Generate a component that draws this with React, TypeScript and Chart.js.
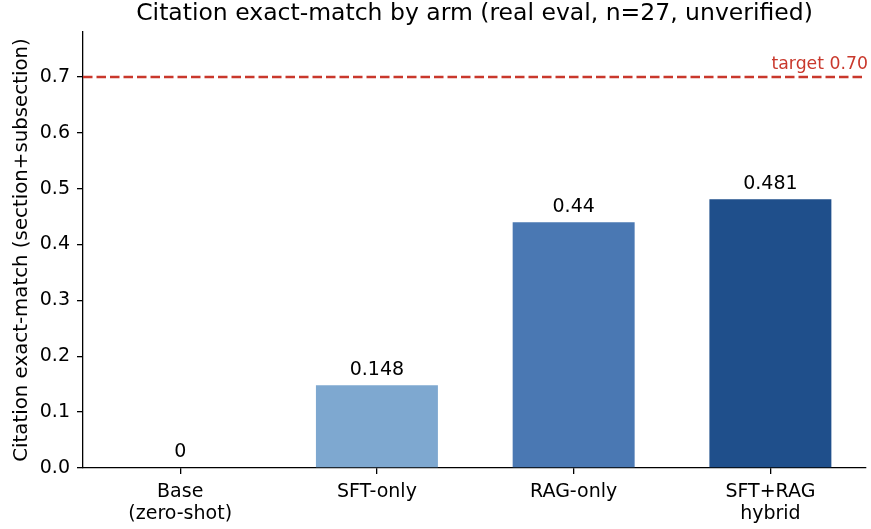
import React, { useEffect, useRef } from "react";
import { Chart, registerables } from "chart.js";

Chart.register(...registerables);

const CATEGORIES: string[][] = [["Base", "(zero-shot)"], ["SFT-only"], ["RAG-only"], ["SFT+RAG", "hybrid"]];
const VALUES: number[] = [0, 0.148, 0.44, 0.481];
const VALUE_LABELS: string[] = ["0", "0.148", "0.44", "0.481"];
const BAR_COLORS: string[] = ["#9ec3e6", "#7ea8d0", "#4a78b3", "#1f4f8b"];
const Y_TICKS: number[] = [0, 0.1, 0.2, 0.3, 0.4, 0.5, 0.6, 0.7];
const X_MIN = -0.494;
const X_MAX = 3.486;
const Y_MAX = 0.7805;
const TARGET = 0.7;
const TARGET_LABEL = "target 0.70";
const TITLE = "Citation exact-match by arm (real eval, n=27, unverified)";
const Y_TITLE = "Citation exact-match (section+subsection)";

const FONT = "'DejaVu Sans', sans-serif";
const RED = "#c9382c";

const overlayPlugin = {
  id: "overlay",
  afterDatasetsDraw(chart: any) {
    const { ctx, chartArea, scales } = chart;
    const y = scales.y;
    ctx.save();
    // title centred over the plot area
    ctx.fillStyle = "#000";
    ctx.font = `23.5px ${FONT}`;
    ctx.textAlign = "center";
    ctx.textBaseline = "middle";
    ctx.fillText(TITLE, (chartArea.left + chartArea.right) / 2, 14);
    // target line
    const ty = y.getPixelForValue(TARGET);
    ctx.strokeStyle = RED;
    ctx.lineWidth = 2.5;
    ctx.setLineDash([9.5, 4]);
    ctx.beginPath();
    ctx.moveTo(chartArea.left, ty);
    ctx.lineTo(chartArea.right, ty);
    ctx.stroke();
    ctx.setLineDash([]);
    ctx.fillStyle = RED;
    ctx.font = `17.3px ${FONT}`;
    ctx.textAlign = "right";
    ctx.textBaseline = "bottom";
    ctx.fillText(TARGET_LABEL, chartArea.right + 2, ty - 4);
    // value labels
    const meta = chart.getDatasetMeta(0);
    ctx.fillStyle = "#000";
    ctx.font = `19px ${FONT}`;
    ctx.textAlign = "center";
    ctx.textBaseline = "bottom";
    meta.data.forEach((bar: any, i: number) => {
      ctx.fillText(VALUE_LABELS[i], bar.x, bar.y - 6);
    });
    ctx.restore();
  },
};

export default function App() {
  const ref = useRef<HTMLCanvasElement>(null);
  useEffect(() => {
    document.body.style.margin = "0";
    const canvas = ref.current!;
    const chart = new Chart(canvas, {
      type: "bar",
      data: {
        datasets: [
          {
            data: VALUES.map((v, i) => ({ x: i, y: v })) as any,
            backgroundColor: BAR_COLORS,
            barPercentage: 0.62,
            categoryPercentage: 1,
            borderWidth: 0,
          },
        ],
      },
      options: {
        animation: false,
        responsive: false,
        devicePixelRatio: 1,
        layout: { padding: { left: 0, right: 5, top: 32, bottom: 0 } },
        plugins: {
          legend: { display: false },
          tooltip: { enabled: false },
          title: { display: false },
        },
        scales: {
          x: {
            type: "linear",
            min: X_MIN,
            max: X_MAX,
            offset: false,
            grid: { drawOnChartArea: false, drawTicks: true, tickLength: 6, color: "#000", lineWidth: 1.3, offset: false },
            border: { display: true, color: "#000", width: 1.3 },
            ticks: {
              color: "#000",
              font: { family: FONT, size: 19, lineHeight: 1.16 },
              padding: 7,
              maxRotation: 0,
              autoSkip: false,
              callback: (v: any) => CATEGORIES[Math.round(Number(v))] ?? "",
            },
            afterBuildTicks(scale: any) {
              scale.ticks = CATEGORIES.map((_, i) => ({ value: i }));
            },
            afterFit(scale: any) {
              scale.height = 61;
            },
          },
          y: {
            min: 0,
            max: Y_MAX,
            grid: { drawOnChartArea: false, drawTicks: true, tickLength: 6, color: "#000", lineWidth: 1.3 },
            border: { display: true, color: "#000", width: 1.3 },
            ticks: {
              color: "#000",
              font: { family: FONT, size: 19 },
              padding: 7,
              callback: (v: any) => Number(v).toFixed(1),
            },
            afterBuildTicks(scale: any) {
              scale.ticks = Y_TICKS.map((v) => ({ value: v }));
            },
            title: {
              display: true,
              text: Y_TITLE,
              color: "#000",
              font: { family: FONT, size: 19.8 },
              padding: { top: 10, bottom: 0 },
            },
            afterFit(scale: any) {
              scale.width = 83;
            },
          },
        },
      },
      plugins: [overlayPlugin],
    });
    return () => chart.destroy();
  }, []);
  return <canvas ref={ref} width={871} height={529} style={{ display: "block", width: 871, height: 529 }} />;
}
